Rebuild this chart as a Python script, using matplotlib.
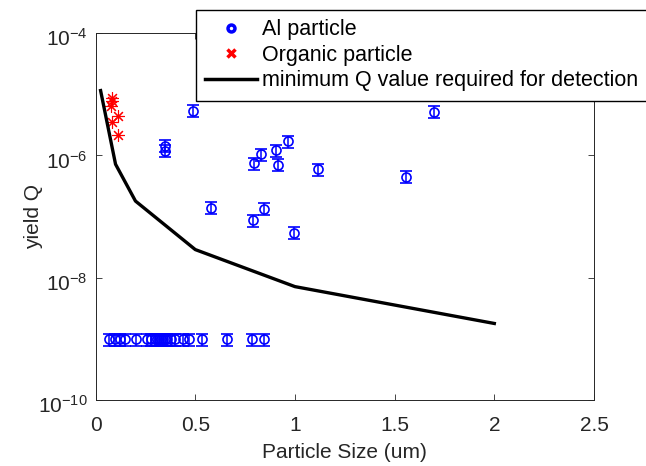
import numpy as np
import matplotlib.pyplot as plt
import matplotlib.transforms as mtransforms
from matplotlib.lines import Line2D

plt.rcParams['font.family'] = ['Liberation Sans', 'DejaVu Sans']
plt.rcParams['mathtext.fontset'] = 'custom'
plt.rcParams['mathtext.rm'] = 'Liberation Sans'
plt.rcParams['mathtext.it'] = 'Liberation Sans'
plt.rcParams['mathtext.default'] = 'regular'

# Al particles (size in um, yield Q)
al_size = [0.490, 0.349, 0.349, 0.967, 0.904, 0.828, 0.796, 0.917, 1.114, 1.557,
           1.698, 0.578, 0.847, 0.790, 0.995,
           0.069, 0.095, 0.120, 0.145, 0.203, 0.26, 0.28, 0.30, 0.31, 0.32, 0.33,
           0.34, 0.35, 0.36, 0.38, 0.40, 0.44, 0.47, 0.533, 0.658, 0.782, 0.843]
al_q = [5.4e-6, 1.45e-6, 1.2e-6, 1.7e-6, 1.21e-6, 1.05e-6, 7.5e-7, 7.05e-7, 6.0e-7, 4.5e-7,
        5.2e-6, 1.41e-7, 1.35e-7, 8.7e-8, 5.5e-8,
        1e-9, 1e-9, 1e-9, 1e-9, 1e-9, 1e-9, 1e-9, 1e-9, 1e-9, 1e-9, 1e-9,
        1e-9, 1e-9, 1e-9, 1e-9, 1e-9, 1e-9, 1e-9, 1e-9, 1e-9, 1e-9, 1e-9]
al_rel_err = 0.22

# Organic particles
org_size = [0.084, 0.080, 0.076, 0.111, 0.081, 0.114]
org_q = [7.9e-6, 8.6e-6, 6.5e-6, 4.5e-6, 3.5e-6, 2.2e-6]

# detection threshold
thr_size = [0.025, 0.1, 0.2, 0.5, 1.0, 2.0]
thr_q = [1.15e-5, 7.2e-7, 1.8e-7, 2.9e-8, 7.2e-9, 1.8e-9]

fig = plt.figure(figsize=(6.46, 4.66), dpi=100)
ax = fig.add_axes([0.148, 0.141, 0.7715, 0.788])

al_q = np.array(al_q)
ax.errorbar(al_size, al_q, yerr=al_rel_err * al_q, fmt='o', color='blue',
            mfc='none', mec='blue', ms=6.5, mew=1.2, elinewidth=1.1,
            capsize=4, capthick=1.1)
ax.plot(org_size, org_q, linestyle='none', marker=(8, 2, 0), color='red',
        ms=9, mew=0.8)
ax.plot(thr_size, thr_q, color='black', lw=2.4)

ax.set_yscale('log')
ax.set_xlim(0, 2.5)
ax.set_ylim(1e-10, 1e-4)
ax.set_xticks([0, 0.5, 1, 1.5, 2, 2.5])
ax.set_xticklabels(['0', '0.5', '1', '1.5', '2', '2.5'])
ax.set_yticks([1e-10, 1e-8, 1e-6, 1e-4])
ax.set_yticklabels([r'$10^{-10}$', r'$10^{-8}$', r'$10^{-6}$', r'$10^{-4}$'])
ax.minorticks_off()
ax.tick_params(direction='in', top=True, right=True, length=4, width=0.6,
               labelsize=15, colors='#262626')
ax.tick_params(axis='x', pad=11)
ax.tick_params(axis='y', pad=6)
for s in ax.spines.values():
    s.set_color('#262626')
    s.set_linewidth(0.7)

# shift y tick labels a little down, like the reference
shift = mtransforms.ScaledTranslation(0, -4 / 100, fig.dpi_scale_trans)
for lab in ax.get_yticklabels():
    lab.set_transform(lab.get_transform() + shift)

ax.set_xlabel('Particle Size (um)', fontsize=15, color='#262626', labelpad=6)
ax.set_ylabel('yield Q', fontsize=15, color='#262626', labelpad=-4)

handles = [
    Line2D([], [], linestyle='none', marker='o', mfc='none', mec='blue', mew=2.5, ms=5),
    Line2D([], [], linestyle='none', marker='x', color='red', mew=2.5, ms=6),
    Line2D([], [], color='black', lw=2.5),
]
labels = ['Al particle', 'Organic particle', 'minimum Q value required for detection']
leg = fig.legend(handles, labels, loc='upper left', bbox_to_anchor=(0.303, 0.979),
                 fontsize=15.5, frameon=True, fancybox=False, framealpha=1,
                 edgecolor='black', handlelength=2.4, handletextpad=0.25,
                 labelspacing=0.2, borderpad=0.45, borderaxespad=0)
leg.get_frame().set_linewidth(1.0)

fig.savefig('out.png', dpi=100)
